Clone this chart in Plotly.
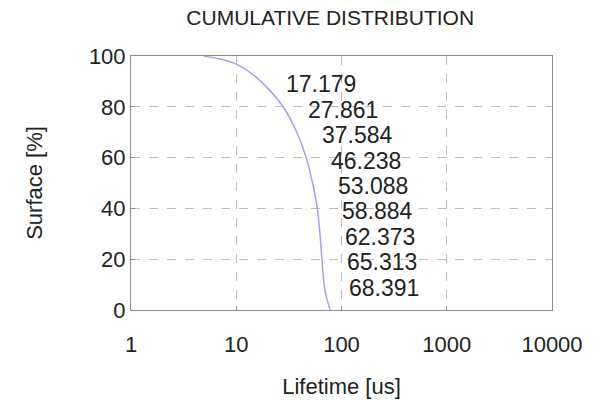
import numpy as np
import plotly.graph_objects as go

# Curve data
lifetime_us = [4.9, 7.0, 10.0, 13.5, 17.179, 27.861, 37.584, 46.238, 53.088,
               58.884, 62.373, 65.313, 68.391, 72.0, 75.5, 78.0]
surface_pct = [100, 98.8, 96.8, 93.5, 90, 80, 70, 60, 50, 40, 30, 20, 10, 5, 2, 0]

# Percentile labels (lifetime at 90%, 80%, ..., 10%)
label_values = [17.179, 27.861, 37.584, 46.238, 53.088, 58.884, 62.373, 65.313, 68.391]
label_pcts = [90, 80, 70, 60, 50, 40, 30, 20, 10]

x_ticks = [1, 10, 100, 1000, 10000]
y_ticks = [0, 20, 40, 60, 80, 100]

FONT = "Liberation Sans, Arial, sans-serif"
TXT = "#222222"

fig = go.Figure()
fig.add_trace(go.Scatter(x=lifetime_us, y=surface_pct, mode="lines",
                         line=dict(color="#a3a0f7", width=1.5, shape="spline"),
                         showlegend=False, hoverinfo="skip"))

for v, p in zip(label_values, label_pcts):
    fig.add_annotation(x=np.log10(v), y=p, xref="x", yref="y",
                       text=f"{v:.3f}", showarrow=False,
                       xanchor="left", yanchor="middle", xshift=23, yshift=-3,
                       font=dict(family=FONT, size=23, color=TXT))

axis_common = dict(showline=True, linecolor="#8a8a8a", linewidth=1, mirror=True,
                   showgrid=True, gridcolor="#bdbdbd", griddash="dash", gridwidth=1,
                   ticks="inside", ticklen=4, tickcolor="#8a8a8a", zeroline=False,
                   automargin=False,
                   tickfont=dict(family=FONT, size=22, color=TXT))

fig.update_xaxes(type="log", range=[0, 4], tickvals=x_ticks,
                 ticktext=[str(t) for t in x_ticks], ticklabelstandoff=15,
                 title=dict(text="Lifetime [us]", font=dict(family=FONT, size=22, color=TXT),
                            standoff=22),
                 **axis_common)
fig.update_yaxes(range=[0, 100], tickvals=y_ticks,
                 title=dict(text="Surface [%]", font=dict(family=FONT, size=22, color=TXT),
                            standoff=40),
                 **axis_common)

fig.update_layout(
    width=595, height=402,
    margin=dict(l=131, r=43, t=56, b=92),
    paper_bgcolor="white", plot_bgcolor="white",
    title=dict(text="CUMULATIVE DISTRIBUTION", x=0.555, xanchor="center",
               y=0.955, yanchor="middle",
               font=dict(family=FONT, size=21, color=TXT)),
)

fig.write_html("out.html")
